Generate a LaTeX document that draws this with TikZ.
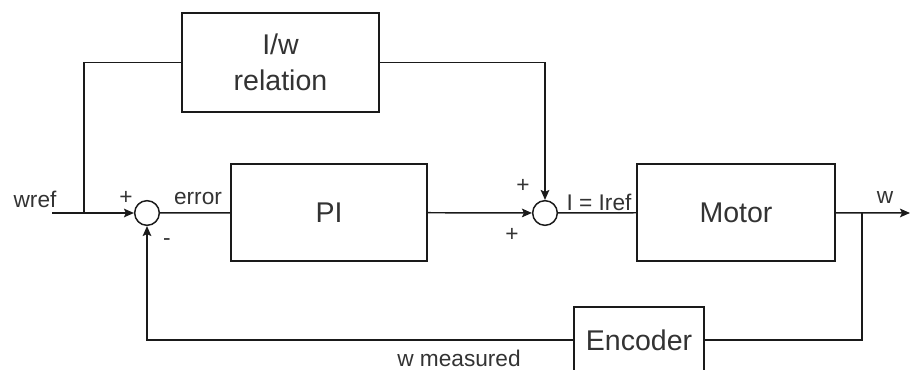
\documentclass[tikz,border=0pt]{standalone}
\usepackage{fontspec}
\setmainfont{Liberation Sans}
\usetikzlibrary{arrows.meta}
\definecolor{txt}{HTML}{333333}
\definecolor{ln}{HTML}{1A1A1A}
\begin{document}
\begin{tikzpicture}[x=0.75pt,y=-0.75pt,
  blockbox/.style={draw=ln,line width=1.1pt,fill=white,inner sep=0pt,font=\fontsize{21.4}{27}\selectfont,text=txt,align=center},
  sumnode/.style={draw=ln,line width=1.1pt,circle,fill=white,minimum size=18.5pt,inner sep=0pt},
  lbl/.style={font=\fontsize{17}{20}\selectfont,text=txt,inner sep=0pt},
  wire/.style={draw=ln,line width=1.1pt},
  arr/.style={wire,-{Stealth[length=7.5pt,width=6.5pt,inset=1.5pt]}}]
\useasboundingbox (0,0) rectangle (910,370);
\clip (0,0) rectangle (910,370);
% blocks
\node[blockbox,minimum width=147.75pt,minimum height=74.25pt] (rel) at (280.5,62.5) {I/w\\relation};
\node[blockbox,minimum width=147pt,minimum height=72.75pt] (pi) at (329,212.5) {PI};
\node[blockbox,minimum width=148.5pt,minimum height=72.75pt] (motor) at (736,212.5) {Motor};
\node[blockbox,minimum width=97.5pt,minimum height=49.5pt] (enc) at (639,340) {Encoder};
\node[sumnode] (s1) at (147,213) {};
\node[sumnode] (s2) at (545,213) {};
% coordinates
\coordinate (in) at (52,213);
\coordinate (out) at (910,213);
\coordinate (tapL) at (84,213);
\coordinate (tapR) at (862,213);
% connectors
\draw[arr] (in) -- (s1);
\draw[wire] (tapL) |- (rel.west);
\draw[arr] (rel.east) -| (s2);
\draw[wire] (s1) -- (pi);
\draw[arr] (pi) -- (s2);
\draw[wire] (s2) -- (motor);
\draw[arr] (motor) -- (out);
\draw[wire] (tapR) |- (enc.east);
\draw[arr] (enc.west) -| (s1);
% labels
\node[lbl] (lwref) at (35,199) {wref};
\node[lbl] (lp1) at (126,198) {+};
\node[lbl] (lerr) at (198,199) {error};
\node[lbl] (lm) at (167,242) {-};
\node[lbl] (lp2) at (523,186) {+};
\node[lbl] (lp3) at (512,235) {+};
\node[lbl] (liref) at (599,202) {I = Iref};
\node[lbl] (lw) at (885,198) {w};
\node[lbl] (lwm) at (459,358) {w measured};
\end{tikzpicture}
\end{document}
